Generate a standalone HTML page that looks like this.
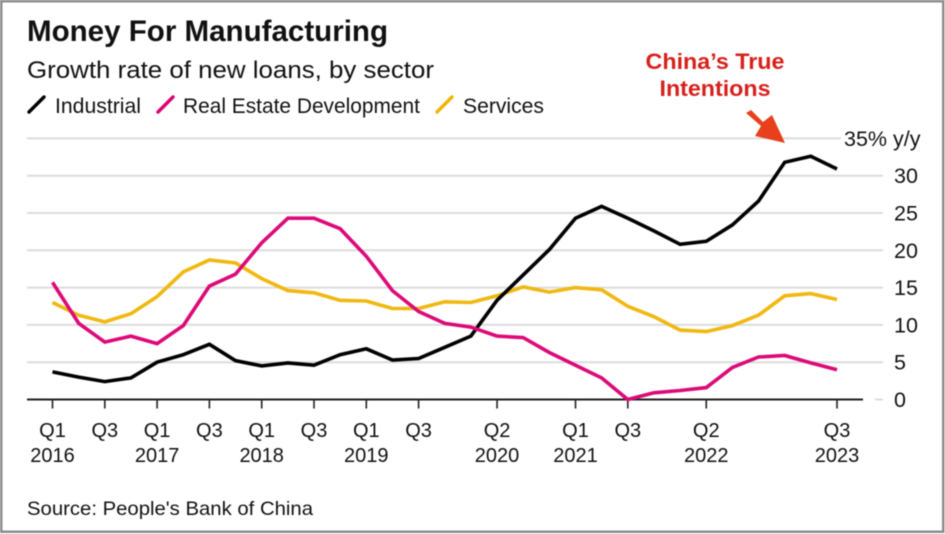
<!DOCTYPE html>
<html lang="en">
<head>
<meta charset="utf-8">
<title>Money For Manufacturing</title>
<style>
html,body{margin:0;padding:0;background:#fff;}
body{width:945px;height:534px;overflow:hidden;}
svg{display:block;filter:blur(0.45px);}
text{font-family:"Liberation Sans",sans-serif;fill:#111;}
</style>
</head>
<body>
<svg id="chart" width="945" height="534" viewBox="0 0 945 534" xmlns="http://www.w3.org/2000/svg">
<rect x="1.25" y="1.25" width="942" height="530.5" fill="#fff" stroke="#8c8c8c" stroke-width="2.5"/>
<text x="27" y="41" font-size="29.5" font-weight="700" textLength="361" lengthAdjust="spacingAndGlyphs">Money For Manufacturing</text>
<text x="27" y="78" font-size="24.5" textLength="407" lengthAdjust="spacingAndGlyphs">Growth rate of new loans, by sector</text>
<g>
<line x1="29" y1="112" x2="44" y2="97" stroke="#000" stroke-width="3.4" stroke-linecap="round"/>
<text x="55" y="113" font-size="21" textLength="86" lengthAdjust="spacingAndGlyphs">Industrial</text>
<line x1="158" y1="112" x2="173" y2="97" stroke="#d9006f" stroke-width="3.4" stroke-linecap="round"/>
<text x="183" y="113" font-size="21" textLength="237" lengthAdjust="spacingAndGlyphs">Real Estate Development</text>
<line x1="437" y1="112" x2="452" y2="97" stroke="#f0b400" stroke-width="3.4" stroke-linecap="round"/>
<text x="463" y="113" font-size="21" textLength="81" lengthAdjust="spacingAndGlyphs">Services</text>
</g>
<g id="grid"></g>
<g id="xaxis"></g>
<g id="yaxis"></g>
<g id="series"></g>
<text x="715" y="69" font-size="22" font-weight="700" text-anchor="middle" style="fill:#d8201a" textLength="139" lengthAdjust="spacingAndGlyphs">China’s True</text>
<text x="715" y="96" font-size="22" font-weight="700" text-anchor="middle" style="fill:#d8201a" textLength="111" lengthAdjust="spacingAndGlyphs">Intentions</text>
<polygon points="746,113 751,110 763,122 772,115 785,143 755,136 761,126" fill="#e8401c"/>
<text x="27" y="515" font-size="19.5" textLength="286" lengthAdjust="spacingAndGlyphs">Source: People's Bank of China</text>
</svg>
<script>
var industrial = [3.7,3.0,2.4,2.9,5.0,6.0,7.4,5.2,4.5,4.9,4.6,6.0,6.8,5.3,5.5,7.0,8.5,13.3,16.7,20.1,24.3,25.9,24.3,22.6,20.8,21.2,23.4,26.6,31.8,32.6,30.9];
var realEstate = [15.7,10.2,7.7,8.5,7.5,9.9,15.2,16.8,21.0,24.3,24.3,22.9,19.2,14.6,11.8,10.2,9.7,8.5,8.3,6.3,4.6,2.9,0.0,0.9,1.2,1.6,4.3,5.7,5.9,4.9,4.0];
var services = [13.0,11.3,10.4,11.5,13.8,17.1,18.7,18.3,16.2,14.6,14.3,13.3,13.2,12.2,12.2,13.1,13.0,13.9,15.1,14.4,15.0,14.7,12.5,11.1,9.3,9.1,9.9,11.3,13.9,14.2,13.4];
var tickIndexes = [0,2,4,6,8,10,12,14,17,20,22,25,30];
var tickQuarters = ["Q1","Q3","Q1","Q3","Q1","Q3","Q1","Q3","Q2","Q1","Q3","Q2","Q3"];
var tickYears = ["2016","","2017","","2018","","2019","","2020","2021","","2022","2023"];
var yTicks = [0,5,10,15,20,25,30,35];

var NS = "http://www.w3.org/2000/svg";
function x(i){ return 52.5 + i * 26.15; }
function y(v){ return 399.5 - v * 7.46; }
function make(tag, parent, attrs){
  var el = document.createElementNS(NS, tag);
  for (var k in attrs) { el.setAttribute(k, attrs[k]); }
  parent.appendChild(el);
  return el;
}
var grid = document.getElementById("grid");
var yaxis = document.getElementById("yaxis");
var xaxis = document.getElementById("xaxis");
var seriesGroup = document.getElementById("series");

yTicks.forEach(function(v){
  var x1 = v === 0 ? 875 : 27;
  var x2 = v === 35 ? 841 : 883;
  var ln = make("line", grid, {x1:x1, x2:x2, y1:y(v), y2:y(v), stroke:"#dcdcdc", "stroke-width":2});
  
  
  var t = make("text", yaxis, {x:v === 35 ? 844 : 894, y:y(v) + 7.5, "font-size":21.5});
  t.textContent = v === 35 ? "35% y/y" : String(v);
  
  
});

var base = make("line", xaxis, {x1:27, x2:863, y1:y(0), y2:y(0), stroke:"#222", "stroke-width":2});



tickIndexes.forEach(function(idx, n){
  var tk = make("line", xaxis, {x1:x(idx), x2:x(idx), y1:y(0), y2:y(0) + 9, stroke:"#222", "stroke-width":1.6});
  
  
  var q = make("text", xaxis, {x:x(idx), y:437, "font-size":20, "text-anchor":"middle"});
  q.textContent = tickQuarters[n];
  
  
  if (tickYears[n]) {
    var yr = make("text", xaxis, {x:x(idx), y:462, "font-size":20, "text-anchor":"middle"});
    yr.textContent = tickYears[n];
    
    
  }
});

function drawLine(values, color){
  var pts = values.map(function(v, i){ return x(i).toFixed(1) + "," + y(v).toFixed(1); }).join(" ");
  return make("polyline", seriesGroup, {points:pts, fill:"none", stroke:color, "stroke-width":3.6, "stroke-linejoin":"miter", "stroke-linecap":"butt"});
}
var lineServices = drawLine(services, "#f0b810");


var lineIndustrial = drawLine(industrial, "#000");


var lineRealEstate = drawLine(realEstate, "#dc0a78");


</script>
</body>
</html>
